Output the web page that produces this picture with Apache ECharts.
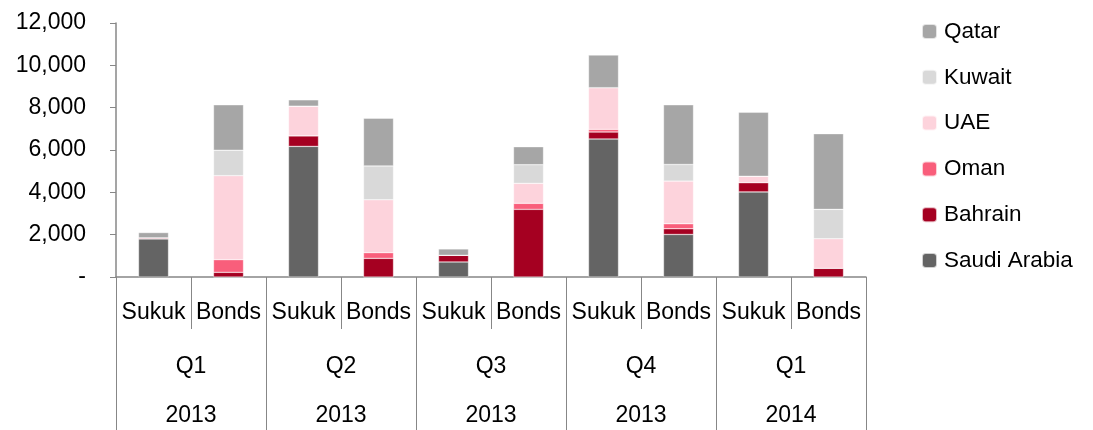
<!DOCTYPE html>
<html><head><meta charset="utf-8">
<script src="https://cdn.jsdelivr.net/npm/echarts@6/dist/echarts.min.js"></script>
<style>html,body{margin:0;padding:0;background:#fff}#c{width:1093px;height:430px}</style>
</head><body><div id="c"></div>
<script>
var typeLabels = ['Sukuk','Bonds','Sukuk','Bonds','Sukuk','Bonds','Sukuk','Bonds','Sukuk','Bonds'];
var quarterLabels = ['Q1','Q2','Q3','Q4','Q1'];
var yearLabels = ['2013','2013','2013','2013','2014'];
var saudi   = [1800, 0, 6170, 0, 710, 0, 6520, 2010, 4020, 0];
var bahrain = [50, 220, 500, 880, 315, 3195, 330, 270, 440, 410];
var oman    = [0, 600, 0, 270, 0, 285, 125, 235, 0, 0];
var uae     = [0, 3970, 1400, 2500, 0, 945, 1970, 2015, 300, 1400];
var kuwait  = [0, 1200, 0, 1600, 0, 880, 0, 785, 0, 1385];
var qatar   = [250, 2145, 300, 2250, 300, 850, 1540, 2820, 3020, 3575];
var yTicks = [0, 2000, 4000, 6000, 8000, 10000, 12000];

var FONT = '"Liberation Sans", Arial, sans-serif';
var groupKeys = quarterLabels.map(function(q, i){ return q + ' ' + yearLabels[i]; });
var axisGray = '#878787';

function mk(name, data, color){
  return {name:name, type:'bar', stack:'total', data:data, barWidth:'40%',
    itemStyle:{color:color, borderColor:'rgba(255,255,255,0.7)', borderWidth:0.5},
    emphasis:{disabled:true}};
}

var chart = echarts.init(document.getElementById('c'), null, {renderer:'canvas'});
chart.setOption({
  animation:false,
  textStyle:{fontFamily:FONT},
  grid:{left:116, right:227, top:23, bottom:153, containLabel:false},
  legend:{
    orient:'vertical', left:916, top:15, itemWidth:15, itemHeight:15, itemGap:22.8,
    textStyle:{fontFamily:FONT, fontSize:22.5, color:'#000', padding:[0,0,0,2]},
    data:['Qatar','Kuwait','UAE','Oman','Bahrain','Saudi Arabia']
  },
  xAxis:[
    {type:'category', data:typeLabels, position:'bottom',
     axisLine:{lineStyle:{color:axisGray, width:1.5}},
     axisTick:{show:true, interval:0, length:52, lineStyle:{color:axisGray, width:1}},
     axisLabel:{interval:0, margin:24, fontSize:23, color:'#000', fontFamily:FONT}},
    {type:'category', data:groupKeys, position:'bottom',
     axisLine:{show:false},
     axisTick:{show:true, interval:0, length:170, lineStyle:{color:axisGray, width:1}},
     axisLabel:{interval:0, margin:78, fontSize:23, color:'#000', fontFamily:FONT,
       formatter:function(v, i){ return quarterLabels[i]; }}},
    {type:'category', data:groupKeys, position:'bottom',
     axisLine:{show:false}, axisTick:{show:false},
     axisLabel:{interval:0, margin:127, fontSize:23, color:'#000', fontFamily:FONT,
       formatter:function(v, i){ return yearLabels[i]; }}}
  ],
  yAxis:{
    type:'value', min:yTicks[0], max:yTicks[yTicks.length-1], interval:2000,
    axisLine:{show:true, lineStyle:{color:axisGray, width:1.5}},
    axisTick:{show:true, length:6, lineStyle:{color:axisGray}},
    splitLine:{show:false},
    axisLabel:{margin:30, fontSize:23, color:'#000', fontFamily:FONT,
      formatter:function(v){ return v === 0 ? '-' : v.toLocaleString('en-US'); }}
  },
  series:[
    mk('Saudi Arabia', saudi, '#646464'),
    mk('Bahrain', bahrain, '#A50021'),
    mk('Oman', oman, '#F95E7B'),
    mk('UAE', uae, '#FDD3DC'),
    mk('Kuwait', kuwait, '#D9D9D9'),
    mk('Qatar', qatar, '#A6A6A6')
  ]
});
</script></body></html>
